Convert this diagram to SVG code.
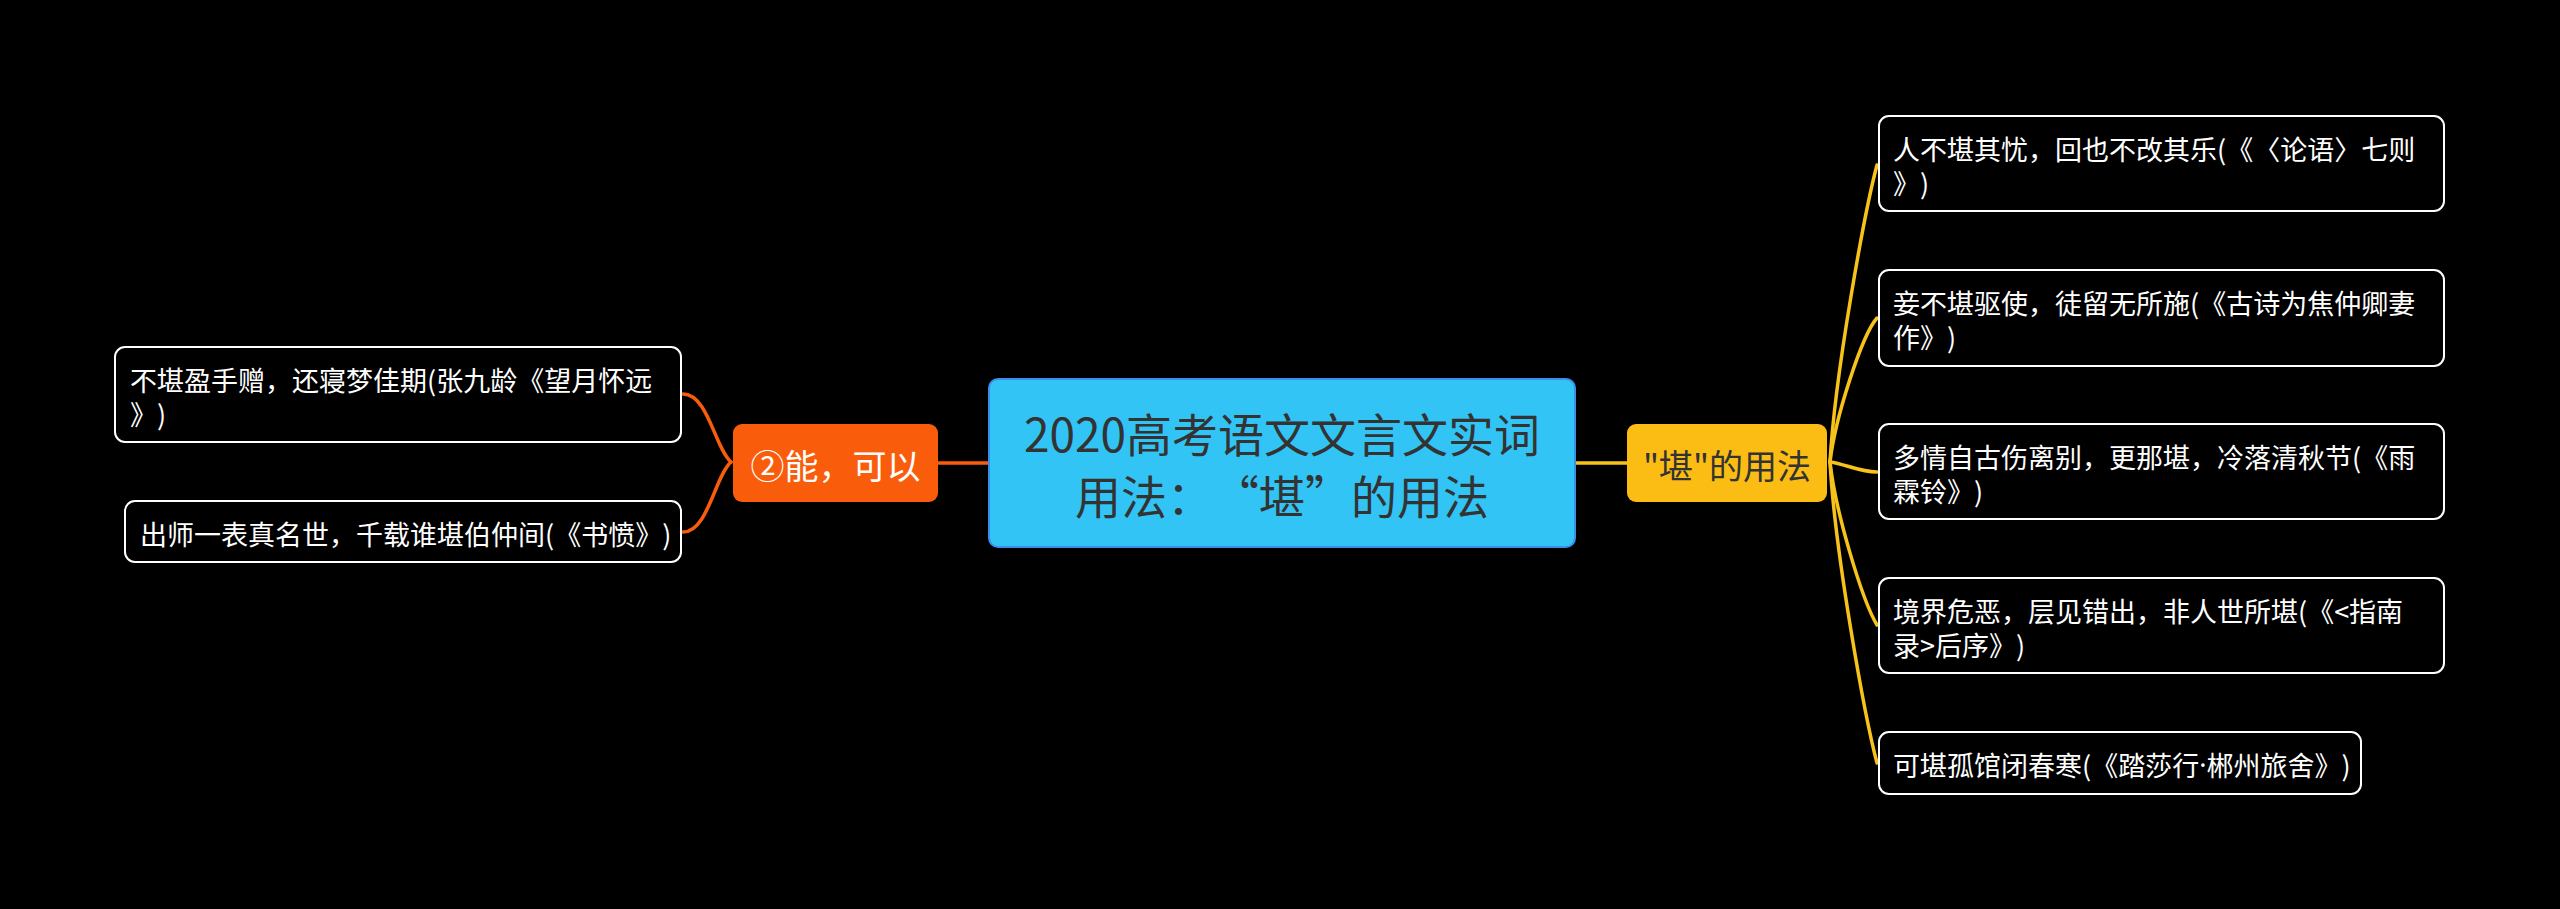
<svg xmlns="http://www.w3.org/2000/svg" width="2560" height="909" viewBox="0 0 2560 909">
<style>
text{font-family:"Noto Sans CJK SC","Noto Sans",sans-serif;dominant-baseline:central;text-spacing-trim:space-all}
.leaf rect{fill:#000;stroke:#fff;stroke-width:2}
.leaf text{fill:#fff;font-size:27px}
.lat{font-family:"Noto Sans",sans-serif}
.conn path{fill:none;stroke-width:3.5;stroke-linecap:round}
.or{stroke:#F95D0C}
.ye{stroke:#F7C21A}
</style>
<rect width="2560" height="909" fill="#000"/>
<g class="conn" id="connectors">
<path class="or" d="M938,463 L989,463"/>
<path class="ye" d="M1575,463 L1627,463"/>
<path class="or" d="M731,462 C715,448 708,394 683,394"/>
<path class="or" d="M731,462 C715,476 708,532 683,532"/>
<path class="ye" d="M1830,462 C1835,373 1865,210 1877,165"/>
<path class="ye" d="M1830,462 C1835,418 1862,335 1877,318"/>
<path class="ye" d="M1830,462 C1845,464 1860,472 1877,472"/>
<path class="ye" d="M1830,462 C1835,510 1862,600 1877,625"/>
<path class="ye" d="M1830,462 C1835,553 1865,718 1877,763"/>
</g>
<g id="central">
<rect x="989" y="379" width="586" height="168" rx="9" fill="#31C4F5" stroke="#3A8FE8" stroke-width="2"/>
<text x="1282" y="432" font-size="46" fill="#333" text-anchor="middle">2020高考语文文言文实词</text>
<text x="1282" y="494" font-size="46" fill="#333" text-anchor="middle">用法：“堪”的用法</text>
</g>
<g id="branch-left">
<rect x="733" y="424" width="205" height="78" rx="9" fill="#F95D0C"/>
<text x="835.5" y="464" font-size="34" fill="#fff" text-anchor="middle">②能，可以</text>
</g>
<g id="branch-right">
<rect x="1627" y="424" width="200" height="78" rx="9" fill="#FBBD14"/>
<text x="1727" y="464" font-size="34" fill="#333" text-anchor="middle">"堪"的用法</text>
</g>
<g id="leaf-l1" class="leaf">
<rect x="115" y="347" width="566" height="95" rx="10"/>
<text x="130" y="379">不堪盈手赠，还寝梦佳期(张九龄《望月怀远</text>
<text x="130" y="413">》)</text>
</g>
<g id="leaf-l2" class="leaf">
<rect x="125" y="501" width="556" height="61" rx="10"/>
<text x="140" y="533">出师一表真名世，千载谁堪伯仲间(《书愤》)</text>
</g>
<g id="leaf-r1" class="leaf">
<rect x="1879" y="116" width="565" height="95" rx="10"/>
<text x="1893" y="148">人不堪其忧，回也不改其乐(《〈论语〉七则</text>
<text x="1893" y="182">》)</text>
</g>
<g id="leaf-r2" class="leaf">
<rect x="1879" y="270" width="565" height="96" rx="10"/>
<text x="1893" y="302">妾不堪驱使，徒留无所施(《古诗为焦仲卿妻</text>
<text x="1893" y="336">作》)</text>
</g>
<g id="leaf-r3" class="leaf">
<rect x="1879" y="424" width="565" height="95" rx="10"/>
<text x="1893" y="456">多情自古伤离别，更那堪，冷落清秋节(《雨</text>
<text x="1893" y="490">霖铃》)</text>
</g>
<g id="leaf-r4" class="leaf">
<rect x="1879" y="578" width="565" height="95" rx="10"/>
<text x="1893" y="610">境界危恶，层见错出，非人世所堪(《&lt;指南</text>
<text x="1893" y="644">录&gt;后序》)</text>
</g>
<g id="leaf-r5" class="leaf">
<rect x="1879" y="732" width="482" height="62" rx="10"/>
<text x="1893" y="764">可堪孤馆闭春寒(《踏莎行<tspan class="lat">·</tspan>郴州旅舍》)</text>
</g>
</svg>
